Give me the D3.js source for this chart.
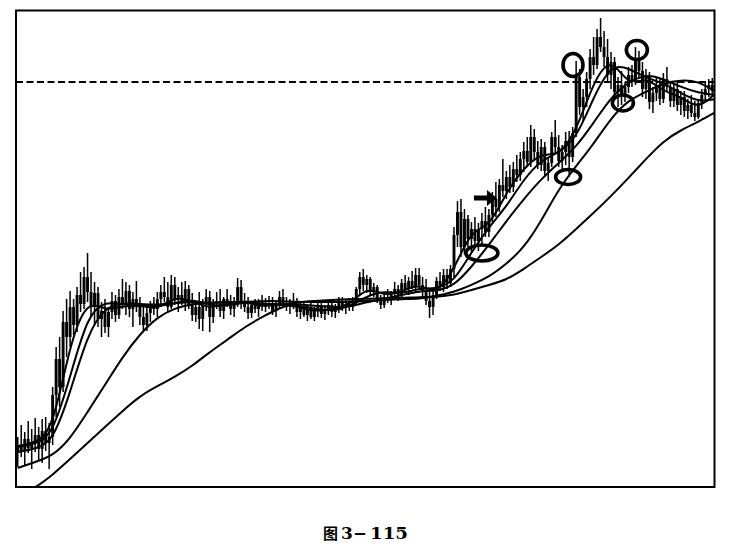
<!DOCTYPE html>
<html><head><meta charset="utf-8">
<script src="https://cdn.jsdelivr.net/npm/d3@7/dist/d3.min.js"></script>
<style>html,body{margin:0;padding:0;background:#fff;}svg{display:block;}</style>
</head><body>
<svg id="chart" width="744" height="549"></svg>
<script>
// ---- daily bars (price units) ----
const openP = [
3.5,4.2,3.6,4.8,3.9,4.5,5.2,3.8,5.6,4.4,
5.0,9.2,12.8,10.0,16.5,15.0,18.0,16.2,19.2,18.3,
21.0,19.5,18.0,19.4,16.8,17.6,16.0,17.5,18.6,17.2,
19.0,18.2,19.6,17.8,18.8,18.0,17.0,16.2,17.4,18.2,
17.8,18.8,19.5,19.0,18.0,20.2,18.8,19.2,18.5,19.8,
18.2,17.2,18.0,16.8,18.2,19.0,17.0,18.4,18.6,17.6,
18.8,18.4,17.8,18.6,20.0,18.5,18.0,17.4,18.2,17.8,
18.6,18.0,18.4,18.2,17.6,18.3,19.0,18.4,18.0,18.5,
18.2,17.5,18.0,17.2,17.8,17.0,17.6,18.0,17.3,17.8,
18.2,17.5,17.9,18.5,18.0,18.3,18.0,18.6,19.8,21.0,
20.2,20.8,19.5,20.0,18.8,18.2,19.0,18.8,19.4,19.8,
19.2,20.4,19.8,20.6,20.0,21.2,20.2,19.6,18.6,18.0,
19.2,20.6,20.0,21.2,20.4,21.8,25.2,27.5,24.0,26.8,
24.8,25.8,24.6,25.8,26.6,25.5,27.2,28.8,28.0,30.2,
29.6,31.0,30.0,31.8,31.2,32.8,33.6,32.5,35.0,33.5,
32.2,34.0,31.6,32.4,35.0,34.0,32.6,33.5,34.6,33.0,
35.4,41.0,38.0,39.0,40.8,43.0,42.2,45.0,44.0,43.0,
41.2,42.5,39.5,40.2,39.0,40.0,41.2,40.6,42.6,41.6,
39.8,41.0,38.5,39.4,40.2,38.8,40.8,40.0,38.6,39.8,
38.2,39.0,37.6,38.2,37.4,37.0,38.4,39.2,39.8,40.2];
const highP = [
5.0,6.2,5.5,6.6,5.8,6.9,6.0,6.8,7.0,6.4,
10.0,14.0,15.0,17.6,18.8,19.6,18.8,20.0,21.5,22.0,
23.4,21.5,20.5,20.0,18.5,18.8,18.0,19.5,19.2,19.8,
20.8,20.5,20.2,19.5,20.6,19.0,18.2,18.0,18.6,19.0,
19.5,20.2,21.0,20.5,21.2,21.0,20.0,20.5,20.6,20.2,
19.4,18.6,19.5,18.8,19.8,19.6,18.8,19.5,19.8,19.0,
19.8,19.2,19.0,20.9,20.7,19.4,19.0,18.6,18.8,18.8,
19.2,18.9,19.1,19.0,18.7,19.6,19.8,19.0,18.8,19.4,
18.9,18.4,18.6,18.2,18.4,18.0,18.5,18.4,18.2,18.8,
18.6,18.3,19.0,19.0,18.7,18.9,19.0,20.0,21.5,21.8,
21.2,21.0,20.4,20.2,19.2,19.4,19.8,19.6,20.5,20.2,
20.8,21.2,21.0,21.6,21.9,21.9,21.0,20.8,19.5,19.6,
21.0,21.5,21.8,21.8,22.2,26.0,28.6,28.8,27.8,27.2,
26.5,27.0,26.4,27.4,28.0,27.8,29.5,30.5,30.8,32.8,
31.6,32.2,32.5,33.2,33.5,34.5,35.0,36.2,35.8,34.6,
34.8,34.5,33.0,35.5,36.7,35.2,34.2,35.5,35.6,36.0,
42.6,41.8,39.8,41.5,43.8,45.0,45.8,46.9,45.6,44.8,
43.5,43.0,41.0,41.6,40.5,42.0,42.2,44.0,43.6,42.5,
41.8,41.5,40.0,41.0,40.8,41.4,42.0,40.6,40.4,40.5,
39.6,39.6,38.8,39.2,38.6,38.8,39.8,40.6,40.8,40.9];
const lowP = [
2.0,3.0,2.2,3.4,1.8,3.5,2.6,2.4,3.6,1.8,
4.2,7.0,8.0,9.5,13.0,14.0,15.2,15.5,17.5,17.8,
18.5,17.0,16.2,16.0,15.0,15.4,15.0,16.8,16.5,16.8,
17.8,17.2,17.0,16.0,17.5,16.2,15.5,15.6,16.5,17.2,
17.0,18.0,18.5,17.5,17.8,18.2,17.5,18.2,17.6,17.8,
16.6,16.5,15.8,15.6,17.6,15.5,16.4,17.8,17.0,16.8,
18.0,17.2,17.0,18.0,17.8,17.5,16.8,16.9,17.4,17.0,
17.6,17.5,17.8,17.2,17.0,17.8,18.0,17.6,17.3,17.8,
17.0,16.8,17.0,16.6,16.8,16.6,17.0,16.9,16.7,17.2,
17.0,16.9,17.4,17.6,17.3,17.6,17.6,18.2,19.2,19.6,
19.4,19.2,19.0,18.4,17.8,17.9,18.4,18.2,18.8,18.6,
18.9,19.5,19.2,19.8,19.5,19.8,19.0,18.2,16.9,17.2,
18.8,19.6,19.5,19.8,20.0,21.0,24.0,23.0,23.2,24.0,
23.5,24.0,23.6,24.2,25.0,25.0,26.5,27.0,27.5,29.0,
28.8,29.4,29.5,30.5,30.6,31.5,32.0,32.0,32.8,31.8,
31.6,31.0,30.6,32.0,33.5,32.0,31.6,32.2,31.0,32.5,
35.0,37.2,36.5,38.0,39.8,41.2,41.8,43.5,42.0,40.5,
39.8,38.8,38.0,38.2,38.5,39.4,40.0,40.2,41.0,39.0,
38.8,37.8,37.4,38.6,38.2,38.4,39.6,38.0,38.0,37.6,
37.2,37.0,36.8,37.0,36.6,36.8,37.8,38.6,39.0,39.2];
const closeP = [
4.2,3.6,4.8,3.9,4.5,5.2,3.8,5.6,4.4,5.0,
9.2,12.8,10.0,16.5,15.0,18.0,16.2,19.2,18.3,21.0,
19.5,18.0,19.4,16.8,17.6,16.0,17.5,18.6,17.2,19.0,
18.2,19.6,17.8,18.8,18.0,17.0,16.2,17.4,18.2,17.8,
18.8,19.5,19.0,18.0,20.2,18.8,19.2,18.5,19.8,18.2,
17.2,18.0,16.8,18.2,19.0,17.0,18.4,18.6,17.6,18.8,
18.4,17.8,18.6,20.0,18.5,18.0,17.4,18.2,17.8,18.6,
18.0,18.4,18.2,17.6,18.3,19.0,18.4,18.0,18.5,18.2,
17.5,18.0,17.2,17.8,17.0,17.6,18.0,17.3,17.8,18.2,
17.5,17.9,18.5,18.0,18.3,18.0,18.6,19.8,21.0,20.2,
20.8,19.5,20.0,18.8,18.2,19.0,18.8,19.4,19.8,19.2,
20.4,19.8,20.6,20.0,21.2,20.2,19.6,18.6,18.0,19.2,
20.6,20.0,21.2,20.4,21.8,25.2,27.5,24.0,26.8,24.8,
25.8,24.6,25.8,26.6,25.5,27.2,28.8,28.0,30.2,29.6,
31.0,30.0,31.8,31.2,32.8,33.6,32.5,35.0,33.5,32.2,
34.0,31.6,32.4,35.0,34.0,32.6,33.5,34.6,33.0,35.4,
41.0,38.0,39.0,40.8,43.0,42.2,45.0,44.0,43.0,41.2,
42.5,39.5,40.2,39.0,40.0,41.2,40.6,42.6,41.6,39.8,
41.0,38.5,39.4,40.2,38.8,40.8,40.0,38.6,39.8,38.2,
39.0,37.6,38.2,37.4,37.0,38.4,39.2,39.8,40.2,39.6];

// ---- moving averages, read every 5 bars (bar 0,5,...,200) ----
const maEvery = 5;
const ma5 = [4.1,4.4,5.6,14.5,18.8,17.6,18.1,18.2,17.7,19.1,18.6,17.8,18.4,18.6,18.0,18.3,18.1,17.5,17.8,18.1,20.1,19.1,19.5,20.4,19.2,21.7,25.8,25.9,29.5,31.9,33.4,33.1,35.5,40.6,43.1,40.0,41.1,39.5,39.1,37.7,39.4];
const ma10 = [4.0,4.3,5.2,11.0,17.2,18.6,18.2,18.2,18.0,18.4,18.8,18.2,18.1,18.5,18.3,18.2,18.2,17.8,17.6,18.0,19.1,19.6,19.3,19.9,19.8,20.5,23.5,26.0,28.0,30.8,32.7,33.4,34.8,39.0,42.3,41.9,40.9,40.4,39.4,38.5,38.8];
const ma20 = [3.5,3.8,4.5,9.4,15.3,18.0,18.4,18.3,18.2,18.4,18.5,18.4,18.5,18.4,18.3,18.3,18.3,18.1,18.0,18.0,18.5,18.8,19.2,19.6,19.6,20.1,22.0,24.2,26.6,28.8,30.8,32.4,34.0,36.4,39.0,40.5,41.3,40.8,40.0,39.4,39.2];
const ma30 = [1.9,2.5,3.1,4.8,7.5,10.2,13.0,15.3,17.0,17.9,18.3,18.4,18.5,18.5,18.6,18.6,18.5,18.5,18.5,18.5,18.6,18.7,18.8,18.8,19.1,19.5,20.2,21.0,22.3,23.9,26.6,29.8,32.1,34.3,36.9,38.7,39.5,40.4,40.7,40.6,39.5];
const ma60 = [-0.9,-0.1,1.2,2.8,4.4,6.0,7.6,9.1,10.1,11.0,12.1,13.5,14.7,16.0,17.0,17.9,18.5,18.6,18.7,18.8,18.8,18.9,18.9,19.0,19.0,19.2,19.7,20.2,20.7,21.8,23.0,24.2,25.8,27.4,29.1,30.9,32.8,34.6,35.7,36.5,37.5];

const refLevel = 40.5;                       // dashed horizontal level
const markBars   = [133.0, 157.7, 173.4, 159.1, 177.4];   // circled spots (bar index)
const markPrices = [23.4, 31.0, 38.4, 42.2, 43.7];        // circled spots (price)
const arrowBar = 137.3, arrowPrice = 28.9;
const captionParts = ["图", "3", "–", "115"];

// ---- layout / style ----
const frame = {l:16, t:10.5, r:714.5, b:487};
const markSize = [[16,8],[12.5,7.5],[10.5,8],[10,11.5],[10.5,9.5]];

const svg = d3.select("#chart");
const n = closeP.length;
const x = d3.scaleLinear().domain([-0.5, n - 0.5]).range([frame.l, 714]);
const y = d3.scaleLinear().domain([0, 47.7]).range([frame.b, 10]);

svg.append("defs").append("clipPath").attr("id","clip")
  .append("rect").attr("x",frame.l).attr("y",frame.t)
  .attr("width",frame.r-frame.l).attr("height",frame.b-frame.t);

const plot = svg.append("g").attr("clip-path","url(#clip)");

// dashed reference line
plot.append("line")
  .attr("x1",frame.l).attr("x2",frame.r)
  .attr("y1",y(refLevel)).attr("y2",y(refLevel))
  .attr("stroke","#000").attr("stroke-width",2).attr("stroke-dasharray","7,3.5");

// moving averages
const line = d3.line().curve(d3.curveBasis)
  .x((d,i)=>x(i*maEvery)).y(d=>y(d));
[ma60, ma30, ma20, ma10, ma5].forEach(s=>{
  plot.append("path").attr("d",line(s)).attr("fill","none")
    .attr("stroke","#000").attr("stroke-width",2).attr("stroke-linejoin","round");
});

// candles
const bars = d3.range(n);
const bw = 2.9;
plot.append("g").selectAll("line").data(bars).join("line")
  .attr("x1",i=>x(i)).attr("x2",i=>x(i))
  .attr("y1",i=>y(highP[i])).attr("y2",i=>y(lowP[i]))
  .attr("stroke","#000").attr("stroke-width",1.5);
plot.append("g").selectAll("rect").data(bars).join("rect")
  .attr("x",i=>x(i)-bw/2).attr("width",bw)
  .attr("y",i=>y(Math.max(openP[i],closeP[i])))
  .attr("height",i=>Math.max(1.5, Math.abs(y(openP[i])-y(closeP[i]))))
  .attr("fill","#000");

// circled marks
markBars.forEach((b,k)=>{
  plot.append("ellipse")
    .attr("cx",x(b)).attr("cy",y(markPrices[k]))
    .attr("rx",markSize[k][0]).attr("ry",markSize[k][1])
    .attr("fill","none").attr("stroke","#000").attr("stroke-width",3.6);
});

// arrow
const tx = x(arrowBar), ty = y(arrowPrice);
plot.append("path")
  .attr("d",`M${tx-23},${ty-2.5} L${tx-10},${ty-2.5} L${tx-10},${ty-8} L${tx},${ty} L${tx-10},${ty+8} L${tx-10},${ty+2.5} L${tx-23},${ty+2.5} Z`)
  .attr("fill","#000");

// frame
svg.append("rect").attr("x",frame.l).attr("y",frame.t)
  .attr("width",frame.r-frame.l).attr("height",frame.b-frame.t)
  .attr("fill","none").attr("stroke","#000").attr("stroke-width",2);

// caption
const capX = [323, 341, 353.5, 370];
const capFont = ["'Noto Sans CJK SC',sans-serif","'DejaVu Serif',serif","'DejaVu Serif',serif","'DejaVu Serif',serif"];
const capSize = [15, 17, 17, 17];
captionParts.forEach((t,k)=>{
  const el = svg.append("text").attr("x",capX[k]).attr("y",539)
    .attr("font-family",capFont[k]).attr("font-weight","bold")
    .attr("font-size",capSize[k]).attr("fill","#000").text(t);
  if(k===2) el.attr("textLength",13).attr("lengthAdjust","spacingAndGlyphs");
  if(k===3) el.attr("textLength",38).attr("lengthAdjust","spacingAndGlyphs");
});
</script>
</body></html>
